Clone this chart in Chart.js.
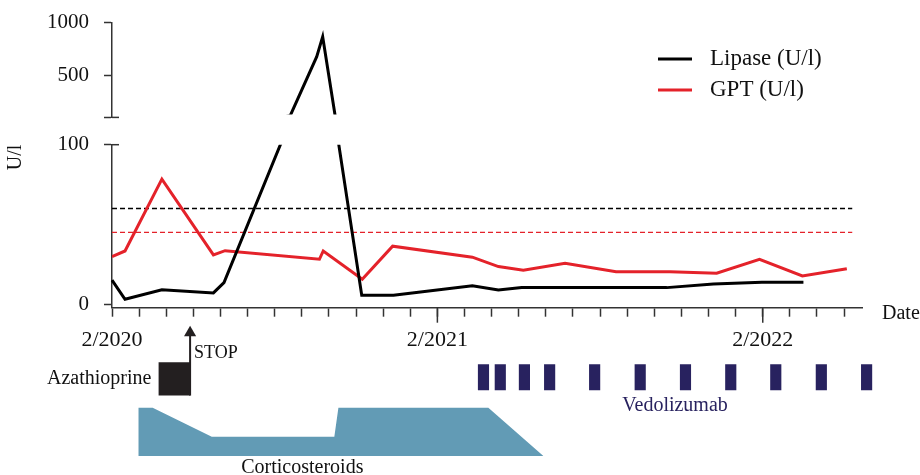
<!DOCTYPE html>
<html>
<head>
<meta charset="utf-8">
<script src="https://cdn.jsdelivr.net/npm/chart.js@4.4.0/dist/chart.umd.min.js"></script>
<style>
body { margin: 0; background: #fff; }
#wrap { position: relative; width: 920px; height: 475px; overflow: hidden; }
canvas { position: absolute; left: 0; }
</style>
</head>
<body>
<div id="wrap">
  <canvas id="chartTop" width="920" height="130" style="top:0px"></canvas>
  <canvas id="chartLow" width="920" height="230" style="top:130px"></canvas>
  <canvas id="chartTx" width="920" height="155" style="top:320px"></canvas>
</div>
<script>
// x = months since 2/2020
const lipase_month = [0, 0.48, 1.84, 3.74, 4.13, 6.57, 7.55, 7.77, 8.23, 9.21, 10.38, 13.29, 14.25, 15.11, 20.46, 22.18, 23.97, 25.5];
const lipase_value = [15, 3, 9, 7, 13.5, 115, 677, 867, 115, 5.5, 5.5, 11.5, 8.8, 10.3, 10.3, 12.6, 13.6, 13.6];
const gpt_month = [0, 0.48, 1.84, 3.74, 4.17, 7.65, 7.79, 9.23, 10.35, 13.29, 14.25, 15.17, 16.71, 18.59, 20.58, 22.3, 23.88, 25.46, 27.1];
const gpt_value = [29.7, 33.3, 78.4, 30.8, 33.5, 28.1, 33.3, 15.5, 36.3, 29.4, 23.5, 21.2, 25.6, 20.3, 20.3, 19.3, 28.1, 17.6, 22.2];
const lipase_limit = 60;
const gpt_limit = 45;
const limit_end = 27.3;
const x_labels = {0: '2/2020', 12: '2/2021', 24: '2/2022'};
const upper_ticks = [100, 500, 1000];
const lower_ticks = [0, 100];

// treatments
const aza_start = 1.71;
const aza_stop = 2.88;
const vedo_month = [13.70, 14.32, 15.21, 16.14, 17.80, 19.48, 21.15, 22.82, 24.48, 26.16, 27.83];
const cortico_month = [0.97, 0.97, 1.50, 3.68, 8.20, 8.35, 13.88, 15.91];
const cortico_dose = [0, 1, 1, 0.4, 0.4, 1, 1, 0];

// layout
const x_max = 27.66;
const left_px = 112, right_pad = 58;
const axis_col = '#333';
const red = '#e4222a';
const serif = 'Liberation Serif';

Chart.defaults.font.family = serif;
Chart.defaults.color = '#111';
Chart.defaults.animation = false;

function pts(xs, ys) {
    return xs.map((x, i) => ({x: x, y: ys[i]}));
}

// keep the plot area where the padding says, labels may overflow
function no_pad(s) {
    s.paddingTop = 0; s.paddingBottom = 0; s.paddingLeft = 0; s.paddingRight = 0;
}

const month_ticks = [];
for (let m = 0; m <= 27; m++) month_ticks.push(m);

// small horizontal stub on the y axis end (top or bottom)
function stub(where) {
    return {
        id: 'stub_' + where,
        afterDraw(chart) {
            const ctx = chart.ctx, a = chart.chartArea;
            const y = where == 'top' ? a.top : a.bottom;
            ctx.save();
            ctx.strokeStyle = axis_col;
            ctx.lineWidth = 1.5;
            ctx.beginPath();
            ctx.moveTo(a.left, y);
            ctx.lineTo(a.left + 7, y);
            ctx.stroke();
            ctx.restore();
        }
    };
}

const legend_plugin = {
    id: 'legend_draw',
    afterDraw(chart) {
        const ctx = chart.ctx;
        const items = [['Lipase (U/l)', '#000', 59], ['GPT (U/l)', red, 90]];
        ctx.save();
        ctx.font = '23px "' + serif + '"';
        ctx.textBaseline = 'middle';
        items.forEach(it => {
            ctx.strokeStyle = it[1];
            ctx.lineWidth = 3;
            ctx.beginPath();
            ctx.moveTo(658, it[2]);
            ctx.lineTo(692, it[2]);
            ctx.stroke();
            ctx.fillStyle = '#111';
            ctx.fillText(it[0], 710, it[2]);
        });
        ctx.restore();
    }
};

const xaxis_extra = {
    id: 'xaxis_extra',
    afterDraw(chart) {
        const ctx = chart.ctx, a = chart.chartArea, xs = chart.scales.x;
        ctx.save();
        ctx.strokeStyle = axis_col;
        ctx.lineWidth = 1.5;
        Object.keys(x_labels).map(Number).filter(m => m > 0).forEach(m => {
            const x = xs.getPixelForValue(m);
            ctx.beginPath();
            ctx.moveTo(x, a.bottom);
            ctx.lineTo(x, a.bottom + 15);
            ctx.stroke();
        });
        ctx.fillStyle = '#111';
        ctx.font = '20px "' + serif + '"';
        ctx.textBaseline = 'middle';
        ctx.fillText('Date', a.right + 20, a.bottom + 6);
        ctx.restore();
    }
};

new Chart(document.getElementById('chartTop'), {
    type: 'line',
    data: {
        datasets: [{
            data: pts(lipase_month, lipase_value),
            borderColor: '#000', borderWidth: 3, pointRadius: 0, tension: 0,
            clip: {left: 2, right: 2, top: 2, bottom: -3}
        }]
    },
    options: {
        responsive: false,
        layout: {padding: {top: 22.7, bottom: 12.6, left: 0, right: right_pad}},
        plugins: {legend: {display: false}, tooltip: {enabled: false}},
        scales: {
            x: {type: 'linear', min: 0, max: x_max, display: false},
            y: {
                type: 'linear', min: 100, max: 1000,
                afterFit: s => { s.width = left_px; no_pad(s); },
                afterBuildTicks: s => { s.ticks = upper_ticks.map(v => ({value: v})); },
                ticks: {font: {size: 21}, padding: 15, callback: v => v == 100 ? '' : v},
                grid: {drawOnChartArea: false, tickLength: 8, tickColor: axis_col, tickWidth: 1.5},
                border: {color: axis_col, width: 1.5}
            }
        }
    },
    plugins: [legend_plugin, stub('bottom')]
});

new Chart(document.getElementById('chartLow'), {
    type: 'line',
    data: {
        datasets: [
            {data: pts(lipase_month, lipase_value), borderColor: '#000', borderWidth: 3, pointRadius: 0, tension: 0,
             clip: {left: 2, right: 2, top: 0, bottom: 2}},
            {data: pts(gpt_month, gpt_value), borderColor: red, borderWidth: 3, pointRadius: 0, tension: 0},
            {data: [{x: 0, y: lipase_limit}, {x: limit_end, y: lipase_limit}], borderColor: '#000', borderWidth: 1.5,
             borderDash: [5, 3], pointRadius: 0},
            {data: [{x: 0, y: gpt_limit}, {x: limit_end, y: gpt_limit}], borderColor: red, borderWidth: 1.3,
             borderDash: [5, 3], pointRadius: 0}
        ]
    },
    options: {
        responsive: false,
        layout: {padding: {top: 14.7, bottom: 0, left: 0, right: right_pad}},
        plugins: {legend: {display: false}, tooltip: {enabled: false}},
        scales: {
            x: {
                type: 'linear', min: 0, max: x_max,
                afterFit: s => { s.height = 52.3; no_pad(s); },
                afterBuildTicks: s => { s.ticks = month_ticks.map(v => ({value: v})); },
                ticks: {autoSkip: false, maxRotation: 0, font: {size: 22}, padding: 10,
                        callback: v => x_labels[v] || ''},
                grid: {drawOnChartArea: false, tickLength: 9, tickColor: axis_col, tickWidth: 1.5},
                border: {color: axis_col, width: 1.5}
            },
            y: {
                type: 'linear', min: -2.3, max: 100,
                afterFit: s => { s.width = left_px; no_pad(s); },
                afterBuildTicks: s => { s.ticks = lower_ticks.map(v => ({value: v})); },
                ticks: {font: {size: 21}, padding: 15},
                grid: {drawOnChartArea: false, tickLength: 8, tickColor: axis_col, tickWidth: 1.5},
                border: {color: axis_col, width: 1.5},
                title: {display: true, text: 'U/l', align: 'end', font: {size: 20}, padding: {top: 4, bottom: 0}}
            }
        }
    },
    plugins: [xaxis_extra, stub('top')]
});

// treatment timeline, same month -> pixel mapping as the charts above
const px_per_month = (920 - left_px - right_pad) / x_max;
const tx_max = 29;
const aza_low = 1.25, aza_high = 1.94, arrow_top = 2.55;
const vedo_low = 1.37, vedo_high = 1.89;

const tx_text = {
    id: 'tx_text',
    afterDraw(chart) {
        const ctx = chart.ctx, xs = chart.scales.x, ys = chart.scales.y;
        ctx.save();
        ctx.textBaseline = 'middle';
        ctx.fillStyle = '#111';
        ctx.font = '20px "' + serif + '"';
        ctx.textAlign = 'right';
        ctx.fillText('Azathioprine', xs.getPixelForValue(aza_start) - 7, ys.getPixelForValue((aza_low + aza_high) / 2));
        ctx.textAlign = 'left';
        ctx.font = '18px "' + serif + '"';
        ctx.fillText('STOP', xs.getPixelForValue(aza_stop) + 4, ys.getPixelForValue(2.12));
        ctx.font = '20px "' + serif + '"';
        ctx.textAlign = 'center';
        ctx.fillText('Corticosteroids', xs.getPixelForValue(7.02), ys.getPixelForValue(-0.24));
        ctx.fillStyle = '#28225f';
        const mid = (vedo_month[0] + vedo_month[vedo_month.length - 1]) / 2;
        ctx.fillText('Vedolizumab', xs.getPixelForValue(mid), ys.getPixelForValue(1.05));
        ctx.restore();
    }
};

new Chart(document.getElementById('chartTx'), {
    type: 'bar',
    data: {
        datasets: [
            {type: 'line', data: pts(cortico_month, cortico_dose), fill: 'origin', backgroundColor: '#629bb5',
             borderWidth: 0, pointRadius: 0, tension: 0},
            {type: 'line', data: [{x: aza_start, y: aza_high}, {x: aza_stop, y: aza_high}], fill: {value: aza_low},
             backgroundColor: '#231f20', borderWidth: 0, pointRadius: 0},
            {type: 'line', data: [{x: aza_stop, y: aza_low}, {x: aza_stop, y: arrow_top}], borderColor: '#231f20',
             borderWidth: 2, pointStyle: 'triangle', pointRadius: [0, 7], pointBackgroundColor: '#231f20',
             pointBorderWidth: 0, clip: false},
            {type: 'bar', data: vedo_month.map(m => ({x: m, y: [vedo_low, vedo_high]})), backgroundColor: '#28225f',
             barThickness: 10.5}
        ]
    },
    options: {
        responsive: false,
        layout: {padding: {left: left_px, right: 920 - left_px - tx_max * px_per_month, top: 6, bottom: 19}},
        plugins: {legend: {display: false}, tooltip: {enabled: false}},
        scales: {
            x: {type: 'linear', min: 0, max: tx_max, display: false, offset: false},
            y: {type: 'linear', min: 0, max: 2.67, display: false}
        }
    },
    plugins: [tx_text]
});
</script>
</body>
</html>
